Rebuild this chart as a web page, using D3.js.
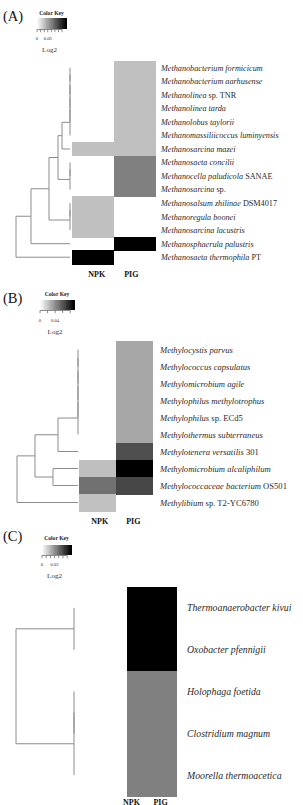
<!DOCTYPE html>
<html><head><meta charset="utf-8">
<script src="https://cdn.jsdelivr.net/npm/d3@7"></script>
<style>body{margin:0;background:#fff}svg{display:block}</style>
</head><body>
<svg id="c" width="303" height="805"></svg>
<script>
// ---------------- DATA ----------------
const columns = ["NPK", "PIG"];

// Panel A
const rowsA = [
  ["Methanobacterium formicicum", ""],
  ["Methanobacterium aarhusense", ""],
  ["Methanolinea", " sp. TNR"],
  ["Methanolinea tarda", ""],
  ["Methanolobus taylorii", ""],
  ["Methanomassiliicoccus luminyensis", ""],
  ["Methanosarcina mazei", ""],
  ["Methanosaeta concilii", ""],
  ["Methanocella paludicola", " SANAE"],
  ["Methanosarcina", " sp."],
  ["Methanosalsum zhilinae", " DSM4017"],
  ["Methanoregula boonei", ""],
  ["Methanosarcina lacustris", ""],
  ["Methanosphaerula palustris", ""],
  ["Methanosaeta thermophila", " PT"]
];
const npkA = [0, 0, 0, 0, 0, 0, 0.04, 0, 0, 0, 0.04, 0.04, 0.04, 0, 0.162];
const pigA = [0.04, 0.04, 0.04, 0.04, 0.04, 0.04, 0.04, 0.081, 0.081, 0.081, 0, 0, 0, 0.162, 0];
// hclust-style merges: negative = leaf (1-based), positive = earlier merge
const mergeA = [
  [-1, -2, 0], [1, -3, 0], [2, -4, 0], [3, -5, 0], [4, -6, 0],
  [5, -7, 0.148], [-8, -9, 0], [7, -10, 0], [6, 8, 0.222],
  [-11, -12, 0], [10, -13, 0], [9, 11, 0.389], [12, -14, 0.722], [13, -15, 1.0]
];
const keyMaxA = 0.162;
const keyTicksA = [0, 0.02, 0.04, 0.06, 0.08, 0.10, 0.12, 0.14];
const keyLabelsA = [0, 0.06];

// Panel B
const rowsB = [
  ["Methylocystis parvus", ""],
  ["Methylococcus capsulatus", ""],
  ["Methylomicrobium agile", ""],
  ["Methylophilus methylotrophus", ""],
  ["Methylophilus", " sp. ECd5"],
  ["Methylothermus subterraneus", ""],
  ["Methylotenera versatilis", " 301"],
  ["Methylomicrobium alcaliphilum", ""],
  ["Methylococcaceae bacterium", " OS501"],
  ["Methylibium", " sp. T2-YC6780"]
];
const npkB = [0, 0, 0, 0, 0, 0, 0, 0.0225, 0.05, 0.022];
const pigB = [0.031, 0.031, 0.031, 0.031, 0.031, 0.031, 0.062, 0.09, 0.065, 0];
const mergeB = [
  [-1, -2, 0], [1, -3, 0], [2, -4, 0], [3, -5, 0], [4, -6, 0],
  [5, -7, 0.328], [-8, -9, 0.41], [6, 7, 0.705], [8, -10, 1.0]
];
const keyMaxB = 0.09;
const keyTicksB = [0, 0.02, 0.04, 0.06, 0.08];
const keyLabelsB = [0, 0.04];

// Panel C
const rowsC = [
  ["Thermoanaerobacter kivui", ""],
  ["Oxobacter pfennigii", ""],
  ["Holophaga foetida", ""],
  ["Clostridium magnum", ""],
  ["Moorella thermoacetica", ""]
];
const npkC = [0, 0, 0, 0, 0];
const pigC = [0.069, 0.069, 0.0345, 0.0345, 0.0345];
const mergeC = [[-1, -2, 0], [-3, -4, 0], [2, -5, 0], [1, 3, 1.0]];
const keyMaxC = 0.069;
const keyTicksC = [0, 0.01, 0.02, 0.03, 0.04, 0.05, 0.06];
const keyLabelsC = [0, 0.03];

// ---------------- LAYOUT ----------------
const panels = [
  { letter: "(A)", letterY: 21, rows: rowsA, npk: npkA, pig: pigA, merge: mergeA,
    keyMax: keyMaxA, keyTicks: keyTicksA, keyLabels: keyLabelsA,
    key: { x0: 37, x1: 66, y0: 18, y1: 29, titleY: 15, labY: 40, logY: 52 },
    heat: { x0: 72, x1: 155, y0: 61, y1: 264 }, dendro: { leaf: 70, root: 16 },
    labelX: 161, labelSize: 8.2, colLabY: 277, colOff: [4, -3] },
  { letter: "(B)", letterY: 303, rows: rowsB, npk: npkB, pig: pigB, merge: mergeB,
    keyMax: keyMaxB, keyTicks: keyTicksB, keyLabels: keyLabelsB,
    key: { x0: 40, x1: 74, y0: 300, y1: 310, titleY: 296, labY: 322, logY: 334 },
    heat: { x0: 79, x1: 152, y0: 341, y1: 511 }, dendro: { leaf: 78, root: 17 },
    labelX: 160, labelSize: 8.6, colLabY: 524, colOff: [2.5, -0.5] },
  { letter: "(C)", letterY: 541, rows: rowsC, npk: npkC, pig: pigC, merge: mergeC,
    keyMax: keyMaxC, keyTicks: keyTicksC, keyLabels: keyLabelsC,
    key: { x0: 42, x1: 71, y0: 545, y1: 555, titleY: 540, labY: 566, logY: 578 },
    heat: { x0: 78, x1: 176, y0: 587, y1: 796 }, dendro: { leaf: 74, root: 16 },
    labelX: 187, labelSize: 9.8, colLabY: 804.5, colOff: [29, 9] }
];

const serif = "'Liberation Serif','Times New Roman',serif";
const svg = d3.select("#c");
svg.append("rect").attr("width", 303).attr("height", 805).attr("fill", "#fff");

panels.forEach(p => {
  const g = svg.append("g");
  // panel letter
  g.append("text").attr("x", 3).attr("y", p.letterY).attr("font-family", serif)
    .attr("font-size", 14.5).attr("fill", "#111").text(p.letter);

  // color key
  const k = p.key;
  const kx = d3.scaleLinear().domain([0, p.keyMax]).range([k.x0, k.x1]);
  const color = d3.scaleLinear().domain([0, p.keyMax]).range(["#ffffff", "#000000"]).clamp(true);
  const steps = d3.range(0, 40);
  g.append("g").attr("shape-rendering", "crispEdges")
    .selectAll(null).data(steps).join("rect")
    .attr("x", i => kx(p.keyMax * i / 40))
    .attr("width", (k.x1 - k.x0) / 40 + 0.5)
    .attr("y", k.y0).attr("height", k.y1 - k.y0)
    .attr("fill", i => color(p.keyMax * (i + 0.5) / 40));
  g.append("text").attr("x", (k.x0 + k.x1) / 2).attr("y", k.titleY)
    .attr("text-anchor", "middle").attr("font-family", serif).attr("font-weight", "bold")
    .attr("font-size", 5.6).attr("fill", "#222").text("Color Key");
  const t0 = p.keyTicks[0], t1 = p.keyTicks[p.keyTicks.length - 1];
  g.append("line").attr("x1", kx(t0)).attr("x2", kx(t1)).attr("y1", k.y1 + 0.5).attr("y2", k.y1 + 0.5)
    .attr("stroke", "#444").attr("stroke-width", 0.6);
  g.selectAll(null).data(p.keyTicks).join("line")
    .attr("x1", d => kx(d)).attr("x2", d => kx(d))
    .attr("y1", k.y1 + 0.5).attr("y2", k.y1 + 3.2)
    .attr("stroke", "#444").attr("stroke-width", 0.6);
  g.selectAll(null).data(p.keyLabels).join("text")
    .attr("x", d => kx(d)).attr("y", k.labY).attr("text-anchor", "middle")
    .attr("font-family", serif).attr("font-size", 4.6).attr("fill", "#333")
    .text(d => d === 0 ? "0" : d3.format(".2f")(d));
  g.append("text").attr("x", (k.x0 + k.x1) / 2 - 2).attr("y", k.logY)
    .attr("text-anchor", "middle").attr("font-family", serif)
    .attr("font-size", 7).attr("fill", "#333").text("Log2");

  // heatmap
  const h = p.heat, n = p.rows.length;
  const xb = d3.scaleBand().domain(columns).range([h.x0, h.x1]);
  const yb = d3.scaleBand().domain(d3.range(n)).range([h.y0, h.y1]);
  const cells = [];
  p.rows.forEach((r, i) => {
    cells.push({ c: "NPK", r: i, v: p.npk[i] });
    cells.push({ c: "PIG", r: i, v: p.pig[i] });
  });
  g.append("g").attr("shape-rendering", "crispEdges")
    .selectAll(null).data(cells.filter(d => d.v > 0)).join("rect")
    .attr("x", d => xb(d.c)).attr("y", d => yb(d.r))
    .attr("width", xb.bandwidth() + 0.6).attr("height", yb.bandwidth() + 0.6)
    .attr("fill", d => color(d.v));

  // column labels
  g.selectAll(null).data(columns).join("text")
    .attr("x", (d, i) => xb(d) + xb.bandwidth() / 2 + p.colOff[i]).attr("y", p.colLabY)
    .attr("text-anchor", "middle").attr("font-family", serif).attr("font-weight", "bold")
    .attr("font-size", 8).attr("fill", "#111").text(d => d);

  // row labels
  const yPos = d3.scaleLinear().domain([0, n]).range([h.y0, h.y1]);
  const lab = g.selectAll(null).data(p.rows).join("text")
    .attr("x", p.labelX).attr("y", (d, i) => yPos(i + 0.5)).attr("dy", "0.35em")
    .attr("font-family", serif).attr("font-size", p.labelSize).attr("fill", "#2a2a2a");
  lab.append("tspan").attr("font-style", "italic").text(d => d[0]);
  lab.append("tspan").text(d => d[1]);

  // dendrogram
  const dx = d3.scaleLinear().domain([0, 1]).range([p.dendro.leaf, p.dendro.root]);
  const nodes = [];
  const node = id => id < 0 ? { h: 0, pos: -id - 1 } : nodes[id - 1];
  p.merge.forEach(m => {
    const a = node(m[0]), b = node(m[1]);
    nodes.push({ h: m[2], pos: (a.pos + b.pos) / 2, kids: [a, b] });
  });
  const path = d3.path();
  nodes.forEach(nd => {
    nd.kids.forEach(ch => {
      path.moveTo(dx(nd.h), yPos(nd.pos + 0.5));
      path.lineTo(dx(nd.h), yPos(ch.pos + 0.5));
      path.lineTo(dx(ch.h), yPos(ch.pos + 0.5));
    });
  });
  g.append("path").attr("d", path.toString()).attr("fill", "none")
    .attr("stroke", "#8c8c8c").attr("stroke-width", 1);
});
</script>
</body></html>
